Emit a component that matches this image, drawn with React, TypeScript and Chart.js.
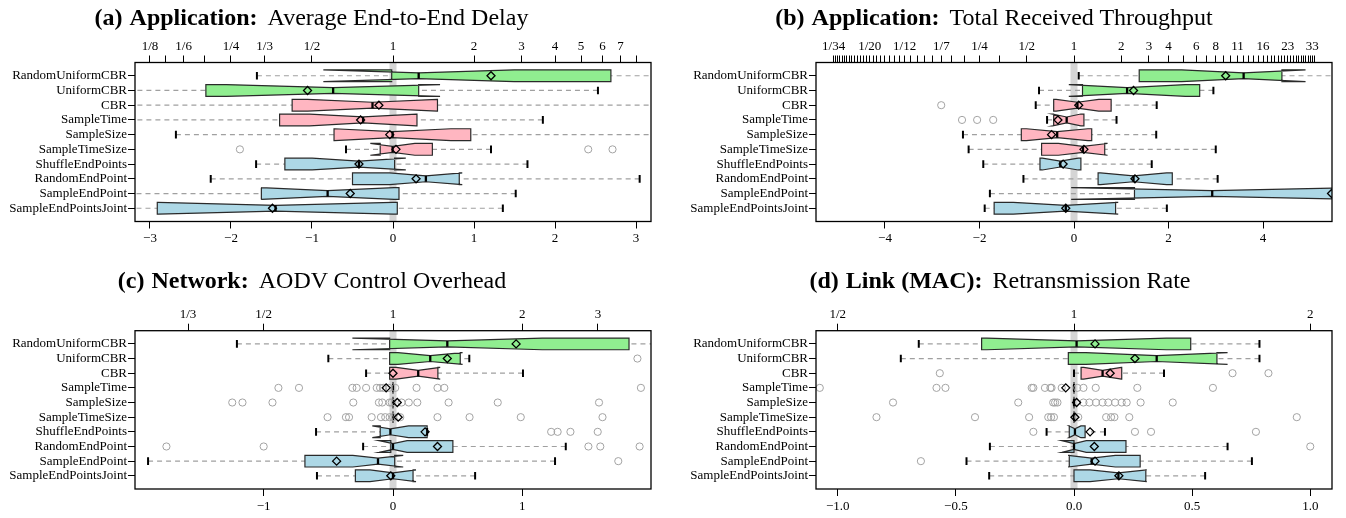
import React, { useEffect, useRef } from 'react';
import { Chart, registerables } from 'chart.js';

Chart.register(...registerables);

const FONT = '"Liberation Serif", "Times New Roman", serif';

// ---------- shared categories ----------
const categories = [
  'RandomUniformCBR', 'UniformCBR', 'CBR', 'SampleTime', 'SampleSize',
  'SampleTimeSize', 'ShuffleEndPoints', 'RandomEndPoint', 'SampleEndPoint', 'SampleEndPointsJoint',
];
const rowColors = [
  '#90ee90', '#90ee90', '#ffb6c1', '#ffb6c1', '#ffb6c1',
  '#ffb6c1', '#add8e6', '#add8e6', '#add8e6', '#add8e6',
];

// ---------- (a) Average End-to-End Delay (log2 ratio) ----------
const delayLow = [-1.68, -3.6, -3.6, -3.6, -2.68, -0.58, -1.69, -2.25, -3.5, -3.5];
const delayQ1 = [-0.016, -2.31, -1.245, -1.40, -0.728, -0.158, -1.335, -0.50, -1.625, -2.91];
const delayMed = [0.317, -0.739, -0.253, -0.369, -0.005, -0.005, -0.42, 0.406, -0.807, -1.45];
const delayQ3 = [2.69, 0.317, 0.549, 0.296, 0.96, 0.486, 0.02, 0.818, 0.074, 0.053];
const delayHigh = [3.6, 2.53, 3.6, 1.85, 3.6, 1.21, 1.66, 3.045, 1.515, 1.356];
const delayNotch = [1.177, 1.32, 0.8, 0.66, 0.72, 0.275, 0.578, 0.449, 0.82, 1.45];
const delayMean = [1.21, -1.055, -0.174, -0.40, -0.04, 0.037, -0.42, 0.285, -0.528, -1.488];
const delayOut = [[], [], [], [], [], [-1.89, 2.41, 2.71], [], [], [], []];
const delayBottomTicks = [-3, -2, -1, 0, 1, 2, 3];
const delayBottomLabels = ['−3', '−2', '−1', '0', '1', '2', '3'];
const delayTopRatios = [1 / 8, 1 / 7, 1 / 6, 1 / 5, 1 / 4, 1 / 3, 1 / 2, 1, 2, 3, 4, 5, 6, 7, 8];
const delayTopLabels = ['1/8', '', '1/6', '', '1/4', '1/3', '1/2', '1', '2', '3', '4', '5', '6', '7', ''];

// ---------- (b) Total Received Throughput ----------
const tputLow = [0.10, -0.74, -0.81, -0.57, -2.35, -2.23, -1.92, -1.07, -1.78, -1.89];
const tputQ1 = [1.38, 0.18, -0.43, -0.43, -1.115, -0.686, -0.72, 0.51, 1.28, -1.69];
const tputMed = [3.59, 1.124, 0.073, -0.155, -0.356, 0.19, -0.29, 1.26, 2.925, -0.174];
const tputQ3 = [4.40, 2.66, 0.786, 0.21, 0.375, 0.65, 0.146, 2.08, 5.9, 0.88];
const tputHigh = [6.0, 2.95, 1.75, 0.90, 1.74, 3.0, 1.645, 3.04, 6.5, 1.965];
const tputNotch = [1.31, 1.234, 0.45, 0.3, 0.65, 0.52, 0.38, 0.7, 2.985, 1.11];
const tputMean = [3.21, 1.26, 0.10, -0.34, -0.475, 0.21, -0.23, 1.29, 5.45, -0.174];
const tputOut = [[], [], [-2.81], [-2.37, -2.05, -1.71], [], [], [], [], [], []];
const tputBottomTicks = [-4, -2, 0, 2, 4];
const tputBottomLabels = ['−4', '−2', '0', '2', '4'];
const tputLabeledDen = [34, 20, 12, 7, 4, 2];
const tputLabeledNum = [2, 3, 4, 6, 8, 11, 16, 23, 33];
const tputMaxN = 34;

// ---------- (c) AODV Control Overhead ----------
const aodvLow = [-1.207, -0.50, -0.208, 0, 0, 0, -0.595, -0.231, -1.894, -0.588];
const aodvQ1 = [-0.026, -0.026, -0.026, 0, 0, 0, -0.099, -0.017, -0.681, -0.291];
const aodvMed = [0.42, 0.288, 0.195, 0, 0, 0, -0.02, 0.0, -0.116, 0.0];
const aodvQ3 = [1.825, 0.52, 0.347, 0, 0, 0, 0.264, 0.463, 0.013, 0.155];
const aodvHigh = [2.3, 0.59, 1.005, 0, 0, 0, 0.264, 1.336, 1.253, 0.635];
const aodvNotch = [0.734, 0.25, 0.17, 0, 0, 0, 0.14, 0.109, 0.195, 0.178];
const aodvMean = [0.952, 0.42, 0.0, -0.053, 0.033, 0.04, 0.248, 0.344, -0.436, -0.017];
const aodvOut = [
  [],
  [1.89],
  [],
  [-0.886, -0.727, -0.314, -0.281, -0.208, -0.126, -0.10, -0.076, -0.033, 0.017, 0.182, 0.344, 0.397, 1.917],
  [-1.243, -1.164, -0.932, -0.307, -0.109, -0.083, -0.026, -0.01, 0.066, 0.122, 0.188, 0.43, 0.81, 1.593],
  [-0.506, -0.364, -0.34, -0.165, -0.093, -0.06, -0.026, 0, 0.056, 0.344, 0.592, 0.988, 1.62],
  [1.223, 1.273, 1.372, 1.583],
  [-1.752, -1.0, 1.511, 1.603, 1.907],
  [1.742],
  [],
];
const aodvBottomTicks = [-1, 0, 1];
const aodvBottomLabels = ['−1', '0', '1'];
const aodvTopRatios = [1 / 3, 1 / 2, 1, 2, 3];
const aodvTopLabels = ['1/3', '1/2', '1', '2', '3'];

// ---------- (d) Retransmission Rate ----------
const retxLow = [-0.657, -0.733, 0.0, 0, 0, 0, -0.116, -0.356, -0.455, -0.359];
const retxQ1 = [-0.391, -0.024, 0.03, 0, 0, 0, -0.02, 0.0, -0.02, 0.0];
const retxMed = [0.011, 0.35, 0.121, 0, 0, 0, 0.004, 0.0, 0.075, 0.188];
const retxQ3 = [0.494, 0.605, 0.202, 0, 0, 0, 0.047, 0.22, 0.28, 0.304];
const retxHigh = [0.785, 0.785, 0.381, 0, 0, 0, 0.131, 0.65, 0.753, 0.555];
const retxNotch = [0.38, 0.30, 0.08, 0, 0, 0, 0.025, 0.052, 0.1, 0.12];
const retxMean = [0.089, 0.258, 0.153, -0.035, 0.011, 0.004, 0.068, 0.086, 0.089, 0.19];
const retxOut = [
  [],
  [],
  [-0.568, 0.671, 0.823],
  [-1.076, -0.582, -0.544, -0.179, -0.172, -0.123, -0.10, -0.095, -0.052, 0.014, 0.04, 0.092, 0.268, 0.588],
  [-0.766, -0.236, -0.088, -0.08, -0.07, 0.04, 0.065, 0.093, 0.121, 0.145, 0.174, 0.202, 0.223, 0.282, 0.418],
  [-0.836, -0.419, -0.19, -0.109, -0.097, -0.085, 0.018, 0.136, 0.157, 0.171, 0.234, 0.943],
  [-0.172, 0.258, 0.326, 0.77],
  [1.0],
  [-0.648],
  [],
];
const retxBottomTicks = [-1, -0.5, 0, 0.5, 1];
const retxBottomLabels = ['−1.0', '−0.5', '0.0', '0.5', '1.0'];
const retxTopRatios = [1 / 2, 1, 2];
const retxTopLabels = ['1/2', '1', '2'];

// build (b) top axis ticks: 1/n ... 1 ... n
const tputTopRatios: number[] = [];
const tputTopLabels: string[] = [];
for (let n = tputMaxN; n >= 2; n--) {
  tputTopRatios.push(1 / n);
  tputTopLabels.push(tputLabeledDen.includes(n) ? `1/${n}` : '');
}
tputTopRatios.push(1);
tputTopLabels.push('1');
for (let n = 2; n <= tputMaxN; n++) {
  tputTopRatios.push(n);
  tputTopLabels.push(tputLabeledNum.includes(n) ? `${n}` : '');
}

type PanelData = {
  low: number[]; q1: number[]; med: number[]; q3: number[]; high: number[];
  notch: number[]; mean: number[]; out: number[][];
  range: number;
  bottomTicks: number[]; bottomLabels: string[];
  topRatios: number[]; topLabels: string[];
  titleTag: string; titleBold: string; titleRest: string;
  left: number; top: number; yW: number; padR: number; padT: number; padB: number;
  titleCenter: number; titleTop: number;
};

const W = 673;
const H = 259;

const panels: PanelData[] = [
  {
    low: delayLow, q1: delayQ1, med: delayMed, q3: delayQ3, high: delayHigh,
    notch: delayNotch, mean: delayMean, out: delayOut, range: 3.185,
    bottomTicks: delayBottomTicks, bottomLabels: delayBottomLabels,
    topRatios: delayTopRatios, topLabels: delayTopLabels,
    titleTag: '(a)', titleBold: 'Application:', titleRest: 'Average End-to-End Delay',
    left: 0, top: 0, yW: 135, padR: 22, padT: 37.5, padB: 12.5, titleCenter: 311.5, titleTop: 5,
  },
  {
    low: tputLow, q1: tputQ1, med: tputMed, q3: tputQ3, high: tputHigh,
    notch: tputNotch, mean: tputMean, out: tputOut, range: 5.46,
    bottomTicks: tputBottomTicks, bottomLabels: tputBottomLabels,
    topRatios: tputTopRatios, topLabels: tputTopLabels,
    titleTag: '(b)', titleBold: 'Application:', titleRest: 'Total Received Throughput',
    left: 673, top: 0, yW: 143, padR: 14, padT: 37.5, padB: 12.5, titleCenter: 994, titleTop: 5,
  },
  {
    low: aodvLow, q1: aodvQ1, med: aodvMed, q3: aodvQ3, high: aodvHigh,
    notch: aodvNotch, mean: aodvMean, out: aodvOut, range: 1.995,
    bottomTicks: aodvBottomTicks, bottomLabels: aodvBottomLabels,
    topRatios: aodvTopRatios, topLabels: aodvTopLabels,
    titleTag: '(c)', titleBold: 'Network:', titleRest: 'AODV Control Overhead',
    left: 0, top: 259, yW: 135, padR: 22, padT: 46.7, padB: 4, titleCenter: 312, titleTop: 268,
  },
  {
    low: retxLow, q1: retxQ1, med: retxMed, q3: retxQ3, high: retxHigh,
    notch: retxNotch, mean: retxMean, out: retxOut, range: 1.092,
    bottomTicks: retxBottomTicks, bottomLabels: retxBottomLabels,
    topRatios: retxTopRatios, topLabels: retxTopLabels,
    titleTag: '(d)', titleBold: 'Link (MAC):', titleRest: 'Retransmission Rate',
    left: 673, top: 259, yW: 143, padR: 14, padT: 46.7, padB: 4, titleCenter: 1000, titleTop: 268,
  },
];

function makeBoxPlugin(p: PanelData) {
  return {
    id: 'notchedBoxes',
    beforeDatasetsDraw(chart: any) {
      const { ctx, chartArea: ca } = chart;
      const xs = chart.scales.x;
      const ys = chart.scales.y;
      const X = (v: number) => xs.getPixelForValue(v);
      const unit = Math.abs(ys.getPixelForValue(2) - ys.getPixelForValue(1));
      const hw = 0.4 * unit;
      const nw = 0.5 * hw;
      const sw = 0.26 * unit;
      ctx.save();
      ctx.beginPath();
      ctx.rect(ca.left, ca.top, ca.right - ca.left, ca.bottom - ca.top);
      ctx.clip();
      // reference band at zero
      ctx.fillStyle = '#d5d5d5';
      ctx.fillRect(X(0) - 3.5, ca.top, 7, ca.bottom - ca.top);
      for (let i = 0; i < categories.length; i++) {
        const yc = ys.getPixelForValue(i + 1);
        const lo = p.low[i], q1 = p.q1[i], med = p.med[i], q3 = p.q3[i], hi = p.high[i];
        const cLo = med - p.notch[i];
        const cHi = med + p.notch[i];
        // whiskers
        ctx.strokeStyle = '#a0a0a0';
        ctx.lineWidth = 1.2;
        ctx.setLineDash([5, 4]);
        ctx.beginPath();
        ctx.moveTo(X(lo), yc);
        ctx.lineTo(X(q1), yc);
        ctx.moveTo(X(hi), yc);
        ctx.lineTo(X(q3), yc);
        ctx.stroke();
        ctx.setLineDash([]);
        // notched box
        ctx.beginPath();
        ctx.moveTo(X(q1), yc - hw);
        ctx.lineTo(X(cLo), yc - hw);
        ctx.lineTo(X(med), yc - nw);
        ctx.lineTo(X(cHi), yc - hw);
        ctx.lineTo(X(q3), yc - hw);
        ctx.lineTo(X(q3), yc + hw);
        ctx.lineTo(X(cHi), yc + hw);
        ctx.lineTo(X(med), yc + nw);
        ctx.lineTo(X(cLo), yc + hw);
        ctx.lineTo(X(q1), yc + hw);
        ctx.closePath();
        ctx.fillStyle = rowColors[i];
        ctx.fill();
        ctx.strokeStyle = '#2a2a2a';
        ctx.lineWidth = 1.2;
        ctx.stroke();
        // staples
        ctx.strokeStyle = '#000';
        ctx.lineWidth = 2;
        ctx.beginPath();
        ctx.moveTo(X(lo), yc - sw);
        ctx.lineTo(X(lo), yc + sw);
        ctx.moveTo(X(hi), yc - sw);
        ctx.lineTo(X(hi), yc + sw);
        ctx.stroke();
        // median
        ctx.lineWidth = 2.3;
        ctx.beginPath();
        ctx.moveTo(X(med), yc - nw);
        ctx.lineTo(X(med), yc + nw);
        ctx.stroke();
      }
      ctx.restore();
    },
    afterDatasetsDraw(chart: any) {
      const { ctx, chartArea: ca } = chart;
      ctx.save();
      ctx.strokeStyle = '#000';
      ctx.lineWidth = 1.3;
      ctx.strokeRect(ca.left, ca.top, ca.right - ca.left, ca.bottom - ca.top);
      ctx.restore();
    },
  };
}

function Panel({ p }: { p: PanelData }) {
  const ref = useRef<HTMLCanvasElement>(null);
  useEffect(() => {
    if (!ref.current) return;
    const topTicks = p.topRatios.map((r) => Math.log2(r));
    const outPts = p.out.flatMap((arr, i) => arr.map((v) => ({ x: v, y: i + 1 })));
    const meanPts = p.mean.map((v, i) => ({ x: v, y: i + 1 }));
    const tickFont = { family: FONT, size: 13 };
    const grid = {
      drawOnChartArea: false,
      drawTicks: true,
      tickLength: 7,
      tickColor: '#000',
      tickWidth: 1,
    };
    const chart = new Chart(ref.current, {
      type: 'scatter',
      data: {
        datasets: [
          {
            label: 'Mean',
            data: meanPts,
            pointStyle: 'rectRot',
            pointRadius: 4,
            pointBorderColor: '#000',
            pointBackgroundColor: 'rgba(0,0,0,0)',
            pointBorderWidth: 1.3,
            clip: 0,
            order: 0,
            xAxisID: 'x',
            yAxisID: 'y',
          } as any,
          {
            label: 'Outliers',
            data: outPts,
            pointStyle: 'circle',
            pointRadius: 3.6,
            pointBorderColor: '#a3a3a3',
            pointBackgroundColor: 'rgba(0,0,0,0)',
            pointBorderWidth: 1,
            clip: 0,
            order: 1,
            xAxisID: 'x',
            yAxisID: 'y',
          } as any,
        ],
      },
      options: {
        animation: false,
        responsive: false,
        maintainAspectRatio: false,
        events: [],
        layout: { padding: { left: 0, right: p.padR, top: p.padT, bottom: p.padB } },
        plugins: {
          legend: { display: false },
          tooltip: { enabled: false },
          title: { display: false },
        },
        scales: {
          x: {
            type: 'linear',
            position: 'bottom',
            min: -p.range,
            max: p.range,
            afterBuildTicks: (s: any) => { s.ticks = p.bottomTicks.map((v) => ({ value: v })); },
            afterFit: (s: any) => { s.height = 25; },
            ticks: {
              autoSkip: false, maxRotation: 0, minRotation: 0, padding: 2.5,
              font: tickFont, color: '#000',
              callback: (_v: any, i: number) => p.bottomLabels[i],
            },
            grid,
            border: { display: false },
          },
          x2: {
            type: 'linear',
            position: 'top',
            axis: 'x',
            min: -p.range,
            max: p.range,
            afterBuildTicks: (s: any) => { s.ticks = topTicks.map((v) => ({ value: v })); },
            afterFit: (s: any) => { s.height = 25; },
            ticks: {
              autoSkip: false, maxRotation: 0, minRotation: 0, padding: 1,
              font: tickFont, color: '#000',
              callback: (_v: any, i: number) => p.topLabels[i],
            },
            grid,
            border: { display: false },
          },
          y: {
            type: 'linear',
            position: 'left',
            min: 0.1,
            max: 10.9,
            reverse: true,
            afterBuildTicks: (s: any) => { s.ticks = categories.map((_c, i) => ({ value: i + 1 })); },
            afterFit: (s: any) => { s.width = p.yW; },
            ticks: {
              autoSkip: false, padding: 1,
              font: tickFont, color: '#000',
              callback: (v: any) => categories[Math.round(Number(v)) - 1],
            },
            grid,
            border: { display: false },
          },
        } as any,
      },
      plugins: [makeBoxPlugin(p)],
    } as any);
    return () => chart.destroy();
  }, [p]);
  return (
    <canvas
      ref={ref}
      width={W}
      height={H}
      style={{ position: 'absolute', left: p.left, top: p.top, width: W, height: H }}
    />
  );
}

export default function App() {
  return (
    <div style={{ position: 'absolute', left: 0, top: 0, width: 1346, height: 518, background: '#fff', overflow: 'hidden' }}>
      {panels.map((p, i) => (
        <Panel key={i} p={p} />
      ))}
      {panels.map((p, i) => (
        <div
          key={'t' + i}
          style={{
            position: 'absolute',
            left: p.titleCenter - 350,
            width: 700,
            top: p.titleTop,
            textAlign: 'center',
            fontFamily: FONT,
            fontSize: 24,
            lineHeight: '24px',
            whiteSpace: 'nowrap',
            color: '#000',
          }}
        >
          <b>{p.titleTag}</b>
          <b style={{ marginLeft: 7 }}>{p.titleBold}</b>
          <span style={{ marginLeft: 10 }}>{p.titleRest}</span>
        </div>
      ))}
    </div>
  );
}
